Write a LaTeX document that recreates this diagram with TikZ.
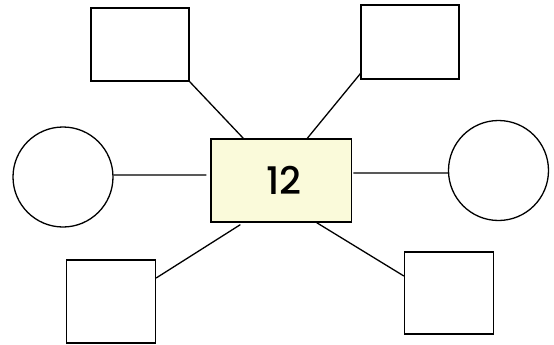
\documentclass[tikz,border=0pt]{standalone}
\usepackage{fontspec}
\newfontfamily\digitfont{Poppins Medium}
\definecolor{paleyellow}{RGB}{250,250,218}
\begin{document}
\begin{tikzpicture}[x=1pt,y=-1pt,line width=1.3pt,
    box/.style={draw,rectangle,inner sep=0pt},
    ring/.style={draw,circle,minimum size=100pt,inner sep=0pt}]
    \useasboundingbox (0,0) rectangle (554,345);
    \node[box,fill=paleyellow,minimum width=140.6pt,minimum height=83pt,
      font=\digitfont\fontsize{38}{40}\selectfont] (C) at (281.3,180.5) {\hspace{5pt}12};
    \node[box,minimum width=98pt,minimum height=73pt] (TL) at (140,44.5) {};
    \node[box,minimum width=98pt,minimum height=74pt] (TR) at (410,42) {};
    \node[ring] (L) at (63,177) {};
    \node[ring] (R) at (498.5,170.5) {};
    \node[box,minimum width=89pt,minimum height=83pt] (BL) at (111,301.5) {};
    \node[box,minimum width=89pt,minimum height=82pt] (BR) at (449,293) {};
    \draw (TL.south east) -- ([xshift=33pt]C.north west)
    ([yshift=6pt]TR.south west) -- ([xshift=-45pt]C.north east)
    ([yshift=2pt]L.east) -- ([xshift=-4pt,yshift=5.5pt]C.west)
    ([xshift=1pt,yshift=7.5pt]C.east) -- ([yshift=-2.5pt]R.west)
    ([xshift=30pt,yshift=-2pt]C.south west) -- ([yshift=23.5pt]BL.east)
    ([xshift=-35.6pt]C.south east) -- ([yshift=17pt]BR.west);
\end{tikzpicture}
\end{document}
